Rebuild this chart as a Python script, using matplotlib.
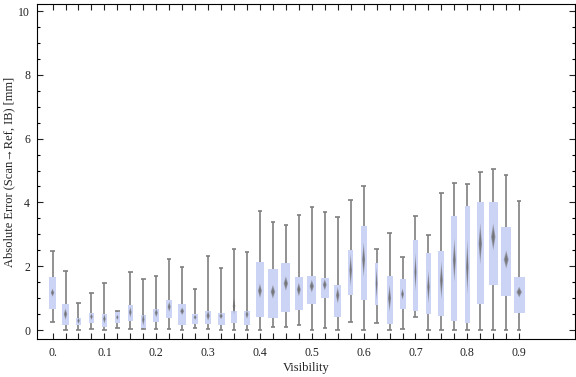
import matplotlib
matplotlib.use("Agg")
import matplotlib.pyplot as plt
from matplotlib.patches import Polygon, Rectangle
from matplotlib.ticker import MultipleLocator
import numpy as np

plt.rcParams['font.family'] = ['Liberation Serif', 'DejaVu Serif']

# visibility categories (0 .. 0.9 step 0.025)
visibility = [round(0.025 * i, 3) for i in range(37)]

whisker_low = [0.25, 0.0, 0.0, 0.02, 0.0, 0.08, 0.02, 0.02, 0.02, 0.03, 0.0, 0.05, 0.03, 0.0,
               0.0, 0.0, 0.0, 0.09, 0.09, 0.15, 0.0, 0.05, 0.0, 0.24, 0.0, 0.21, 0.0, 0.02,
               0.40, 0.0, 0.0, 0.0, 0.0, 0.0, 0.0, 0.0, 0.0]
q1 = [0.65, 0.15, 0.15, 0.21, 0.10, 0.21, 0.29, 0.07, 0.26, 0.39, 0.17, 0.20, 0.20, 0.17,
      0.21, 0.17, 0.42, 0.39, 0.57, 0.64, 0.83, 1.02, 0.42, 1.10, 0.95, 0.79, 0.20, 0.67,
      0.60, 0.51, 0.45, 0.29, 0.23, 0.82, 1.42, 1.07, 0.54]
center = [1.17, 0.50, 0.29, 0.42, 0.35, 0.40, 0.56, 0.33, 0.54, 0.73, 0.59, 0.40, 0.45, 0.44,
          0.75, 0.49, 1.23, 1.20, 1.46, 1.27, 1.375, 1.42, 1.09, 1.875, 2.21, 1.46, 1.00, 1.125,
          1.82, 1.35, 1.56, 2.19, 1.98, 2.71, 2.92, 2.21, 1.19]
q3 = [1.65, 0.81, 0.375, 0.53, 0.50, 0.56, 0.78, 0.47, 0.66, 0.94, 0.81, 0.50, 0.59, 0.53,
      0.59, 0.59, 2.125, 1.90, 2.09, 1.65, 1.68, 1.62, 1.41, 2.50, 3.25, 2.09, 1.69, 1.59,
      2.81, 2.41, 2.47, 3.56, 3.875, 4.00, 4.00, 3.24, 1.66]
whisker_high = [2.48, 1.85, 0.86, 1.15, 1.49, 0.61, 1.83, 1.61, 1.71, 2.23, 1.99, 1.29, 2.33, 1.93,
                2.54, 2.45, 3.73, 3.39, 3.30, 3.61, 3.86, 3.71, 3.55, 4.08, 4.52, 2.53, 3.05, 2.30,
                3.57, 2.99, 4.30, 4.61, 4.58, 4.95, 5.04, 4.86, 4.05]
# half-height of the diamond (uncertainty of centre)
diamond_half = [0.13, 0.18, 0.10, 0.11, 0.15, 0.08, 0.17, 0.20, 0.14, 0.16, 0.12, 0.08, 0.16, 0.10,
                0.26, 0.14, 0.23, 0.22, 0.23, 0.22, 0.20, 0.18, 0.26, 0.52, 0.55, 0.52, 0.43, 0.18,
                0.60, 0.52, 0.60, 0.68, 0.86, 0.65, 0.43, 0.29, 0.17]
# relative box width (varies with group size)
box_width = [7.3, 7.0, 5.0, 5.3, 5.3, 5.0, 5.3, 5.0, 6.3, 6.3, 8.3, 6.0, 6.7, 7.0,
             5.3, 6.0, 8.0, 9.3, 9.0, 8.0, 9.0, 8.0, 7.0, 5.3, 6.0, 3.7, 6.0, 6.0,
             4.3, 5.0, 6.0, 6.0, 5.0, 7.0, 9.0, 10.0, 11.3]

label_ticks = [0.0, 0.1, 0.2, 0.3, 0.4, 0.5, 0.6, 0.7, 0.8, 0.9]
label_text = ["0.", "0.1", "0.2", "0.3", "0.4", "0.5", "0.6", "0.7", "0.8", "0.9"]

W, H = 576, 377
fig = plt.figure(figsize=(W / 100, H / 100), dpi=100)
ax = fig.add_axes([37 / W, 1 - 339 / H, (574.5 - 37) / W, (339 - 4) / H])
xmin, xmax = -0.030, 1.0067
ax.set_xlim(xmin, xmax)
ax.set_ylim(-0.28, 10.22)

px_per_unit = (574.5 - 37) / (xmax - xmin)
box_face = '#ccd4f5'
wcol = '#7f7f7f'

for i, x in enumerate(visibility):
    w = box_width[i] / px_per_unit
    cap = 4.5 / px_per_unit
    ax.plot([x, x], [whisker_low[i], whisker_high[i]], color=wcol, lw=1.2, zorder=1,
            solid_capstyle='butt')
    for yy in (whisker_low[i], whisker_high[i]):
        ax.plot([x - cap / 2, x + cap / 2], [yy, yy], color=wcol, lw=1.2, zorder=1,
                solid_capstyle='butt')
    ax.add_patch(Rectangle((x - w / 2, q1[i]), w, q3[i] - q1[i], facecolor=box_face,
                           edgecolor='none', zorder=2))
    dw = w / 4
    dh = diamond_half[i]
    for s, a in ((1.0, 0.45), (0.75, 0.5), (0.5, 0.6)):
        ax.add_patch(Polygon([(x - dw * s, center[i]), (x, center[i] + dh * s),
                              (x + dw * s, center[i]), (x, center[i] - dh * s)],
                             closed=True, facecolor='#6a6a6a', edgecolor='none', alpha=a,
                             zorder=3))

ax.set_xticks(visibility)
ax.set_xticklabels([label_text[label_ticks.index(v)] if any(abs(v - t) < 1e-9 for t in label_ticks)
                    else "" for v in [round(v, 3) for v in visibility]])
ax.yaxis.set_major_locator(MultipleLocator(2))
ax.yaxis.set_minor_locator(MultipleLocator(0.5))
ax.tick_params(axis='x', which='major', direction='in', length=4, width=0.8, top=True,
               labelsize=8.5, pad=6, colors='#222222')
ax.tick_params(axis='y', which='major', direction='in', length=4.5, width=0.8, right=True,
               labelsize=8.5, pad=5, colors='#222222')
ax.tick_params(axis='y', which='minor', direction='in', length=2.5, width=0.8, right=True)
for sp in ax.spines.values():
    sp.set_linewidth(0.8)

fig.text(306 / W, 1 - 368 / H, "Visibility", fontsize=9, ha='center', va='center',
         color='#222222')
fig.text(9 / W, 1 - 172 / H, "Absolute Error (Scan\u2192Ref, IB) [mm]", fontsize=9,
         rotation=90, ha='center', va='center', color='#222222')

fig.savefig("out.png", dpi=100)
